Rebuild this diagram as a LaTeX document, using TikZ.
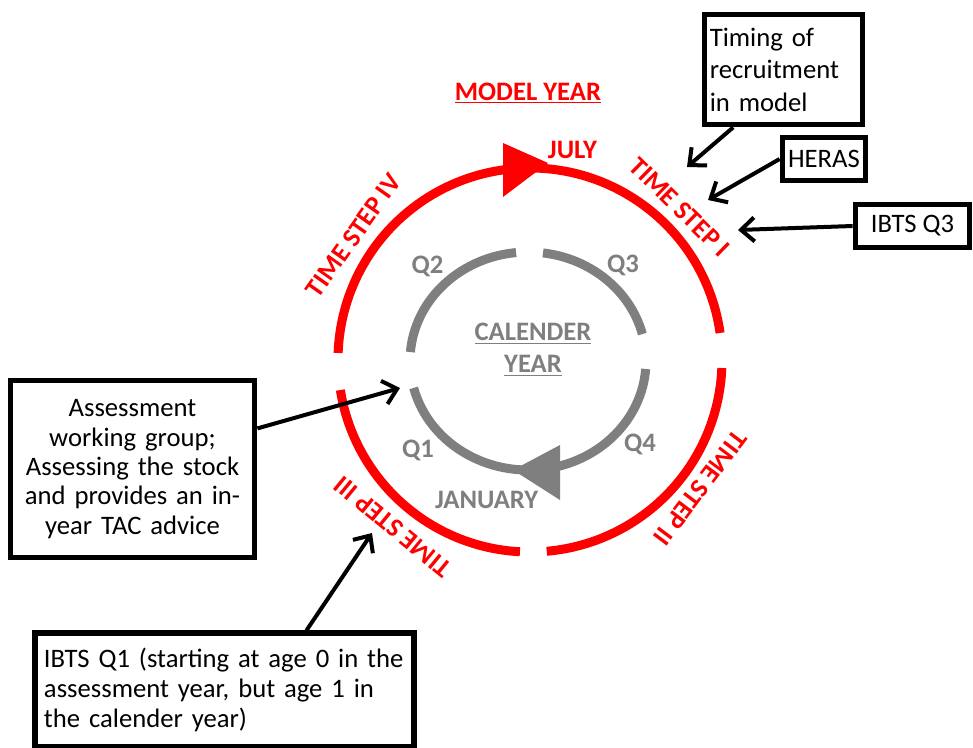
\documentclass[tikz,border=0pt]{standalone}
\usepackage{fontspec}
\setmainfont{Carlito}
\usepackage{tikz}
\usetikzlibrary{arrows.meta}
\definecolor{qgray}{RGB}{127,127,127}

\begin{document}
\begin{tikzpicture}[x=0.75pt, y=0.75pt,
    every node/.style={font=\fontsize{20}{24}\selectfont},
    redlab/.style={red, font=\fontsize{20}{24}\selectfont\bfseries},
    graylab/.style={qgray, font=\fontsize{20}{24}\selectfont\bfseries},
    infobox/.style={draw, line width=4.3pt, inner xsep=4pt, inner ysep=3pt},
    arr/.style={line width=3pt, -{Straight Barb[length=10pt,width=18pt]}}]
    \useasboundingbox (-530,-387) rectangle (443,360);

    % model year: red ring, gaps between the time steps
    \draw[red, line width=6.75pt] (8.1:192) arc[start angle=8.1, end angle=177.9, radius=192];
    \draw[red, line width=6.75pt] (189:192) arc[start angle=189, end angle=267, radius=192];
    \draw[red, line width=6.75pt] (275:192) arc[start angle=275, end angle=357.6, radius=192];
    \fill[red] (-27,217) -- (-27,163) -- (18,197) -- cycle;
    \node[redlab, anchor=base] (modelyear) at (-2,260) {\underline{MODEL YEAR}};
    \node[redlab, anchor=base] (july) at (42.5,202) {JULY};
    \node[redlab, rotate=-44.4] (stepone) at (45.6:214) {TIME STEP I};
    \node[redlab, rotate=-127] (steptwo) at (-37:213) {TIME STEP II};
    \node[redlab, rotate=140.6] (stepthree) at (-129.4:216) {TIME STEP III};
    \node[redlab, rotate=54.8] (stepfour) at (144.8:216) {TIME STEP IV};

    % calender year: gray ring with quarters
    \begin{scope}[shift={(-2,-1)}]
        \draw[qgray, line width=6.75pt] (14.3:118 and 109) arc[start angle=14.3, end angle=82.7, x radius=118, y radius=109];
        \draw[qgray, line width=6.75pt] (95.8:118 and 109) arc[start angle=95.8, end angle=175.3, x radius=118, y radius=109];
        \draw[qgray, line width=6.75pt] (194.3:118 and 109) arc[start angle=194.3, end angle=355.8, x radius=118, y radius=109];
    \end{scope}
    \fill[qgray] (30,-85) -- (30,-140) -- (-17,-110) -- cycle;
    \node[graylab, align=center] (calyear) at (3,10.5) {\underline{CALENDER}\\\underline{YEAR}};
    \node[graylab, anchor=base] (qone) at (-112,-97.7) {Q1};
    \node[graylab, anchor=base] (qtwo) at (-102.5,87) {Q2};
    \node[graylab, anchor=base] (qthree) at (93,88) {Q3};
    \node[graylab, anchor=base] (qfour) at (110,-91.7) {Q4};
    \node[graylab, anchor=base] (january) at (-43.3,-148) {JANUARY};

    % surveys and assessment
    \node[infobox, align=left, text width=110.5pt, minimum height=82.5pt,
        font=\fontsize{20}{24.4}\selectfont] (timing) at (253.5,290.5)
        {Timing of\\recruitment\\in model};
    \node[infobox, minimum width=62.25pt, minimum height=32.25pt] (heras) at (294,201) {HERAS};
    \node[infobox, minimum width=85.5pt, minimum height=32.25pt] (ibtsthree) at (382.5,134) {IBTS Q3};
    \node[infobox, align=center, text width=175pt, minimum height=132.75pt,
        font=\fontsize{20}{22}\selectfont] (assess) at (-397.5,-109)
        {Assessment\\working group;\\Assessing the stock\\and provides an in-\\year TAC advice};
    \node[infobox, align=left, inner xsep=6.75pt, text width=270.75pt, minimum height=85pt,
        font=\fontsize{20}{22.5}\selectfont] (ibtsone) at (-305.5,-330)
        {IBTS Q1 (starting at age 0 in the\\assessment year, but age 1 in\\the calender year)};

    \coordinate (recrtip) at (157,193);
    \coordinate (herastip) at (178,160);
    \coordinate (ibtsthreetip) at (208,130);
    \coordinate (assesstip) at (-130,-28);
    \coordinate (ibtsonetip) at (-158,-173);
    \draw[arr] (timing.229) -- (recrtip);
    \draw[arr] (heras.west) -- (herastip);
    \draw[arr] (ibtsthree.west) -- (ibtsthreetip);
    \draw[arr] (assess.18) -- (assesstip);
    \draw[arr] (ibtsone.36) -- (ibtsonetip);
\end{tikzpicture}
\end{document}
